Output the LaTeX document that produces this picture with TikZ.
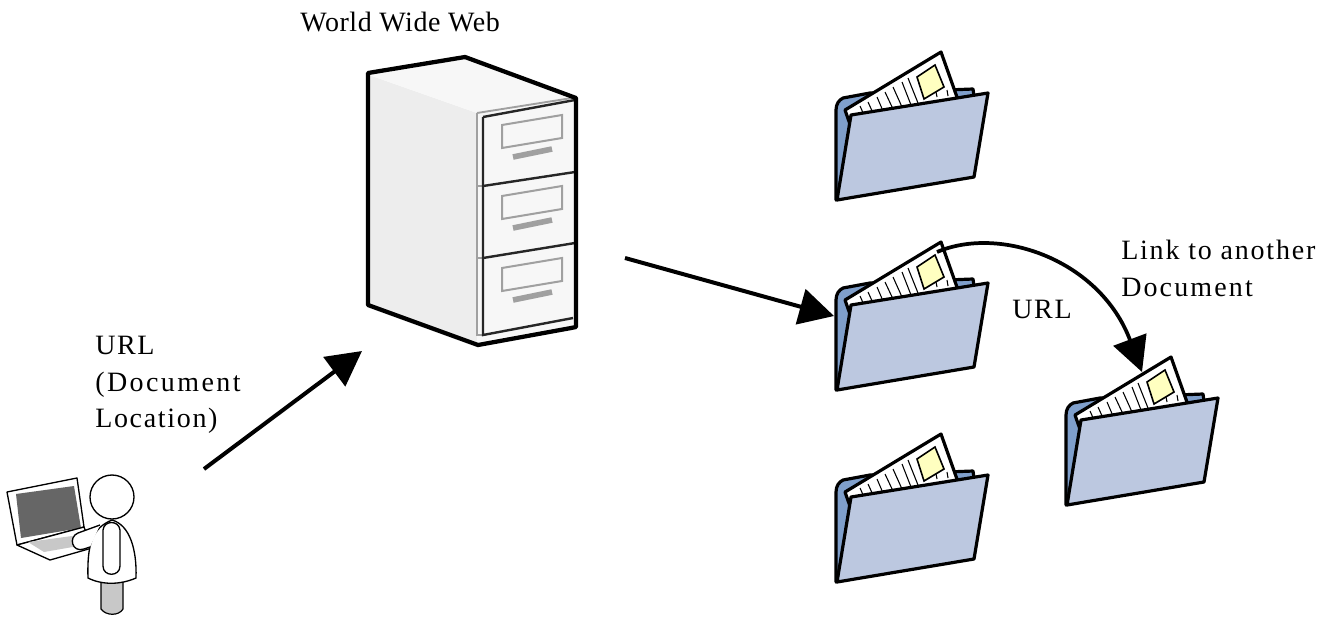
\documentclass[tikz,border=0pt]{standalone}
\usepackage{fontspec}
\setmainfont{Liberation Serif}
\usetikzlibrary{arrows.meta}
\definecolor{folderback}{HTML}{7F9FCB}
\definecolor{folderfront}{HTML}{BCC8E0}
\definecolor{noteyellow}{HTML}{FFFFC0}
\definecolor{cabside}{HTML}{EDEDED}
\definecolor{cabface}{HTML}{F7F7F7}
\definecolor{cabgrey}{HTML}{A0A0A0}
\definecolor{screengrey}{HTML}{666666}
\definecolor{keygrey}{HTML}{C8C8C8}
\newcommand{\lsp}[2]{{\addfontfeature{LetterSpace=#1}#2}}
\tikzset{
  x=0.75pt,y=-0.75pt,
  lbl/.style={font=\fontsize{21}{27.4}\selectfont,inner sep=0pt,align=left},
  bigarrow/.style={line width=3pt,-{Triangle[length=26,width=27]}},
  linkarrow/.style={line width=2.8pt,-{Triangle[length=26,width=26]}},
  folderline/.style={line width=2.4pt,line join=round,draw=black},
  pics/docfolder/.style={code={
    \path[folderline,fill=folderback] (16,160)--(16,70) .. controls (16,64) and (19,60) .. (23,58) -- (50,53) -- (153,49) -- (154,56) -- (30,130) -- cycle;
    \path[folderline,fill=white] (25,70)--(121,12)--(138,60)--(32,90)--cycle;
    \path[draw=black,line width=1.2pt,fill=noteyellow] (97,37)--(115,25)--(124,47)--(104,59)--cycle;
    \foreach \tx/\ty/\bx/\by in {40/66/44/75,48/62/53/73,57/57/63/71,65/52/73/69,73/47/82/67,82/42/91/65,88/38/98/63,116/52/117/57,127/50/128/56}
      \draw[black,line width=0.8pt] (\tx,\ty)--(\bx,\by);
    \path[folderline,fill=folderfront] (31,75)--(168,53)--(154,137)--(17,160)--cycle;
  }}
}
\begin{document}
\begin{tikzpicture}
\useasboundingbox (0,0) rectangle (1333,619);
\fill[white] (0,0) rectangle (1333,619);

% filing cabinet
\path[fill=cabside] (369,75)--(477,113)--(482,335)--(477,342)--(369,305)--cycle;
\path[fill=cabface] (369,75)--(465,58)--(575,99)--(477,113)--cycle;
\path[fill=cabface] (477,113)--(575,99)--(575,325)--(477,342)--cycle;
\draw[cabgrey,line width=1.2pt] (477,113)--(477,335)--(483,335);
\draw[cabgrey,line width=1.4pt] (477,113)--(572,98);
\draw[cabgrey,line width=0.8pt] (477,186)--(483,186) (477,258)--(483,258);
\foreach \dy in {0,71,143}{
  \begin{scope}[yshift=-\dy*0.75pt]
    \draw[cabgrey,line width=1.5pt] (502,125)--(562,115)--(562,138)--(502,148)--cycle;
    \draw[cabgrey,line width=4.2pt] (513,157)--(552,149);
  \end{scope}
}
\draw[black!85,line width=1.8pt] (483,117)--(483,335)--(573,318);
\draw[black!85,line width=1.8pt] (483,117)--(575,100);
\draw[black!85,line width=1.8pt] (483,186)--(575,172);
\draw[black!85,line width=1.8pt] (483,258)--(575,243);
\draw[line width=3.2pt,line join=round] (368,305)--(368,73)--(465,57)--(576,98)--(576,327)--(571,328)--(478,345)--cycle;
\coordinate (cabOut) at (625,258);
\coordinate (cabIn) at (362,351);

% folders
\pic (f1) at (820,40) {docfolder};
\pic (f2) at (820,230) {docfolder};
\pic (f3) at (820,422) {docfolder};
\pic (f4) at (1050,345) {docfolder};
\coordinate (f2in) at (834,316);
\coordinate (f2top) at (937,252);
\coordinate (f4top) at (1142,372);

% person with laptop
\path[draw=black,line width=1pt,line join=round,fill=white] (7,492)--(77,478)--(84,527)--(17,545)--cycle;
\path[fill=screengrey] (16,494)--(74,486)--(81,528)--(21,538)--cycle;
\path[draw=black,line width=1pt,line join=round,fill=white] (17,545)--(84,527)--(92,548)--(50,560)--cycle;
\path[fill=keygrey] (28,542)--(72,536)--(84,545)--(44,552)--cycle;
\path[draw=black,line width=0.9pt,fill=keygrey] (101,580)--(101,609) .. controls (106,616) and (119,616) .. (123,609) -- (123,580) -- cycle;
\path[draw=black,line width=1pt,fill=white] (88,578) .. controls (87,545) and (92,528) .. (112,520) .. controls (130,525) and (137,550) .. (136,578) .. controls (120,585) and (102,585) .. (88,578) -- cycle;
\path[draw=black,line width=1pt,fill=white] (103,530) .. controls (104,520) and (119,520) .. (120,530) -- (120,566) .. controls (120,577) and (103,577) .. (103,566) -- cycle;
\path[draw=black,line width=1pt,fill=white] (100,525) -- (78,533) .. controls (68,537) and (72,553) .. (84,549) -- (90,547);
\node[circle,draw=black,line width=1pt,fill=white,minimum size=33pt,inner sep=0pt] (head) at (112,497) {};
\coordinate (userOut) at (204,469);

% connectors
\draw[bigarrow] (userOut) -- (cabIn);
\draw[bigarrow] (cabOut) -- (f2in);
\draw[linkarrow] (f2top) .. controls (1000,225) and (1100,260) .. (f4top);

% labels
\node[lbl,anchor=north west] (t1) at (300,12) {\lsp{2}{World Wide Web}};
\node[lbl,anchor=north west] (t2) at (95,336) {\lsp{6}{URL}\\\lsp{8.7}{(Document}\\\lsp{6}{Location)}};
\node[lbl,anchor=north west] (t3) at (1121,240) {\lsp{6.4}{Link to another}\\\lsp{7.6}{Document}};
\node[lbl,anchor=north west] (t4) at (1012,300) {\lsp{6}{URL}};
\end{tikzpicture}
\end{document}
